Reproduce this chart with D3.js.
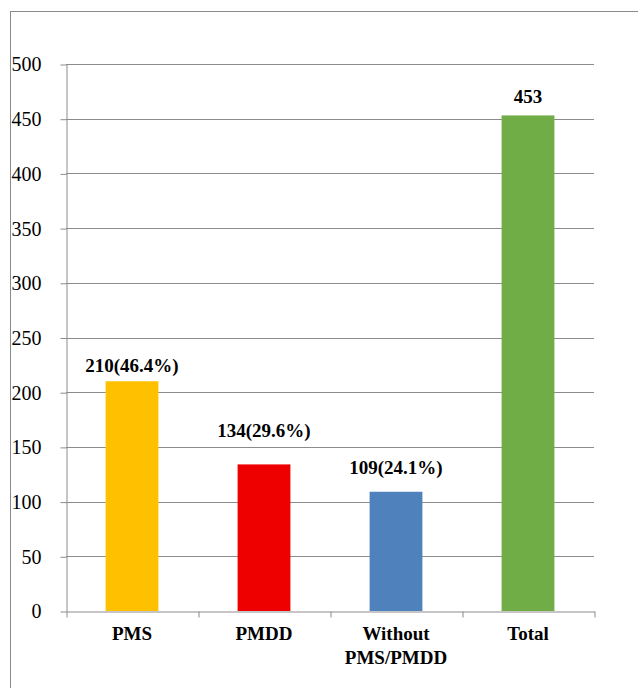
<!DOCTYPE html>
<html><head><meta charset="utf-8">
<script src="https://cdn.jsdelivr.net/npm/d3@7"></script>
<style>body{margin:0;background:#fff}svg{display:block}</style>
</head><body>
<svg id="c" width="638" height="688"></svg>
<script>
const categories = [["PMS"], ["PMDD"], ["Without", "PMS/PMDD"], ["Total"]];
const values = [210, 134, 109, 453];
const valueLabels = ["210(46.4%)", "134(29.6%)", "109(24.1%)", "453"];
const colors = ["#FFC000", "#EE0000", "#4F81BD", "#70AD47"];
const yTicks = [0, 50, 100, 150, 200, 250, 300, 350, 400, 450, 500];

(function() {
const FONT = '"Liberation Serif"';
const svg = d3.select("#c");
svg.append("rect").attr("x", 10.5).attr("y", 11.5).attr("width", 700).attr("height", 700)
  .attr("fill", "none").attr("stroke", "#8a8a8a");

const pLeft = 66, pRight = 594, pTop = 64, pBottom = 611;
const x = d3.scaleBand().domain(d3.range(values.length)).range([pLeft, pRight]).paddingInner(0.6).paddingOuter(0.3);
const y = d3.scaleLinear().domain([0, 500]).range([pBottom, pTop]);

// gridlines
svg.append("g").selectAll("line").data(yTicks.filter(d => d > 0)).join("line")
  .attr("x1", pLeft).attr("x2", pRight)
  .attr("y1", d => Math.round(y(d)) + 0.5).attr("y2", d => Math.round(y(d)) + 0.5)
  .attr("stroke", "#8c8c8c").attr("stroke-width", 1);

// y axis
const ya = svg.append("g").attr("transform", `translate(${pLeft + 0.5},0.5)`)
  .call(d3.axisLeft(y).tickValues(yTicks).tickSize(6).tickSizeOuter(0).tickPadding(19));
ya.attr("font-family", null);
ya.select(".domain").attr("stroke", "#8c8c8c");
ya.selectAll(".tick line").attr("stroke", "#8c8c8c");
ya.selectAll(".tick text").style("font-family", FONT).style("font-size", "20px").attr("fill", "#000");

// bars
svg.append("g").selectAll("rect").data(values).join("rect")
  .attr("x", (d, i) => x(i)).attr("width", x.bandwidth())
  .attr("y", d => y(d)).attr("height", d => y(0) - y(d))
  .attr("fill", (d, i) => colors[i]);

// x axis
const xb = d3.scaleLinear().domain([0, values.length]).range([pLeft, pRight]);
const xa = svg.append("g").attr("transform", `translate(0.5,${pBottom + 0.5})`)
  .call(d3.axisBottom(xb).tickValues(d3.range(values.length + 1)).tickSize(6).tickSizeOuter(0).tickFormat(""));
xa.select(".domain").attr("stroke", "#8c8c8c");
xa.selectAll(".tick line").attr("stroke", "#8c8c8c");

// category labels
svg.append("g").selectAll("text").data(categories).join("text")
  .style("font-family", FONT).style("font-size", "19px").style("font-weight", "bold")
  .attr("text-anchor", "middle")
  .attr("transform", (d, i) => `translate(${x(i) + x.bandwidth() / 2},640)`)
  .selectAll("tspan").data(d => d).join("tspan")
  .attr("x", 0).attr("dy", (d, j) => j === 0 ? 0 : 24).text(d => d);

// value labels
const lift = [9, 27, 18, 12];
svg.append("g").selectAll("text").data(values).join("text")
  .style("font-family", FONT).style("font-size", "19px").style("font-weight", "bold")
  .attr("text-anchor", "middle")
  .attr("transform", (d, i) => `translate(${x(i) + x.bandwidth() / 2},${y(d) - lift[i]})`)
  .text((d, i) => valueLabels[i]);
})();
</script>
</body></html>
